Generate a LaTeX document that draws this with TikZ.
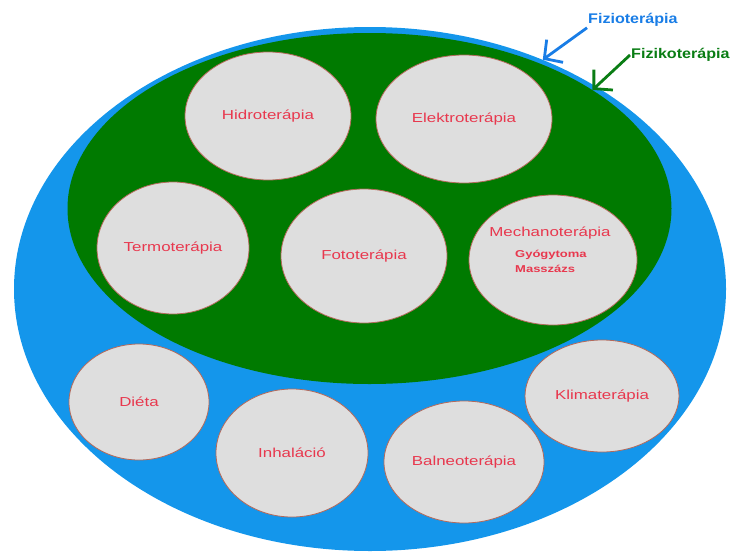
\documentclass[tikz,border=0pt]{standalone}
\usepackage{fontspec}
\setmainfont{Liberation Sans}
\newfontfamily\therapyfont{Liberation Sans}[FakeStretch=1.3]
\newfontfamily\labelfont{Liberation Sans}[FakeStretch=1.15]
\usetikzlibrary{shapes.geometric,arrows.meta}

\definecolor{fizioblue}{RGB}{20,150,235}
\definecolor{fizikogreen}{RGB}{0,122,0}
\definecolor{therapygray}{RGB}{222,222,222}
\definecolor{therapyred}{RGB}{232,56,78}
\definecolor{therapyrim}{RGB}{180,105,90}
\definecolor{arrowblue}{RGB}{25,125,230}
\definecolor{arrowgreen}{RGB}{10,125,20}

\tikzset{
	area/.style={ellipse, inner sep=0pt},
	therapy/.style={ellipse, draw=therapyrim, line width=0.8pt, fill=therapygray, inner sep=0pt,
		text=therapyred, font=\therapyfont\fontsize{13}{15}\selectfont},
	subtherapy/.style={text=therapyred, inner sep=0pt, align=left,
		font=\therapyfont\bfseries\fontsize{10}{15}\selectfont},
	arealabel/.style={anchor=west, inner sep=1pt, font=\labelfont\bfseries\fontsize{14}{16}\selectfont},
	pointer/.style={line width=2.8pt, -{Straight Barb[length=13pt,width=28pt]}}
}

\begin{document}
\begin{tikzpicture}[x=1pt, y=-1pt]
	\useasboundingbox (0,0) rectangle (733,554);

	% the two areas
	\node[area, fill=fizioblue, minimum width=712pt, minimum height=524pt] (fizio) at (370,289) {};
	\node[area, fill=fizikogreen, minimum width=604pt, minimum height=351pt] (fiziko) at (369.5,208.5) {};

	% physical therapies
	\node[therapy, minimum width=166pt, minimum height=128pt] (hidro) at (268,116) {Hidroterápia};
	\node[therapy, minimum width=176pt, minimum height=128pt] (elektro) at (464,119) {Elektroterápia};
	\node[therapy, minimum width=152pt, minimum height=132pt] (termo) at (173,248) {Termoterápia};
	\node[therapy, minimum width=166pt, minimum height=134pt] (foto) at (364,256) {Fototerápia};
	\node[therapy, minimum width=168pt, minimum height=130pt] (mechano) at (553,260) {};
	\node[therapy, draw=none, fill=none] (mechanotitle) at (550,233) {Mechanoterápia};
	\node[subtherapy, anchor=west] (mechanosub) at (515,261.5) {Gyógytoma\\Masszázs};

	% other therapies
	\node[therapy, minimum width=140pt, minimum height=116pt] (dieta) at (139,402) {Diéta};
	\node[therapy, minimum width=152pt, minimum height=128pt] (inhal) at (292,453) {Inhaláció};
	\node[therapy, minimum width=160pt, minimum height=122pt] (balneo) at (464,462) {Balneoterápia};
	\node[therapy, minimum width=154pt, minimum height=112pt] (klima) at (602,396) {Klimaterápia};

	% labels
	\node[arealabel, text=arrowblue] (fiziolabel) at (587,20) {Fizioterápia};
	\node[arealabel, text=arrowgreen] (fizikolabel) at (630,55) {Fizikoterápia};

	\draw[pointer, arrowblue] (fiziolabel.south west) -- (fizio.53);
	\draw[pointer, arrowgreen] (fizikolabel.west) -- (fiziko.28);
\end{tikzpicture}
\end{document}
